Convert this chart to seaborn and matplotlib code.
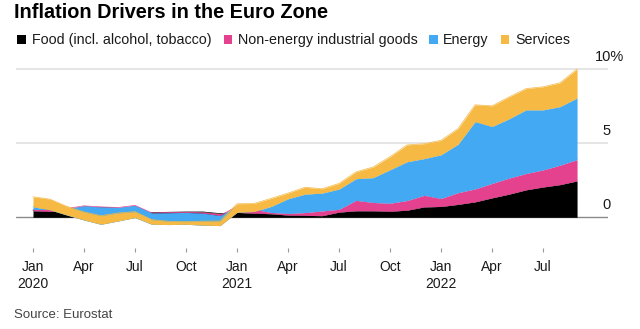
import numpy as np
import pandas as pd
import matplotlib
matplotlib.use("Agg")
import matplotlib.pyplot as plt
import matplotlib.transforms as mtransforms
from matplotlib.patches import Rectangle
import seaborn as sns

# ---------------- data (percentage-point contributions to euro-zone HICP) ----------------
months = pd.date_range("2020-01-01", "2022-09-01", freq="MS")
food = [0.44, 0.40, 0.46, 0.69, 0.65, 0.61, 0.38, 0.32, 0.34, 0.36, 0.36, 0.25,
        0.33, 0.28, 0.24, 0.15, 0.13, 0.11, 0.35, 0.44, 0.44, 0.41, 0.48, 0.70,
        0.73, 0.87, 1.04, 1.31, 1.56, 1.85, 2.04, 2.20, 2.45]
neig = [0.08, 0.13, 0.13, 0.08, 0.05, 0.05, 0.42, -0.03, -0.03, -0.03, -0.08, -0.13,
        0.40, 0.27, 0.08, 0.11, 0.19, 0.32, 0.19, 0.70, 0.56, 0.54, 0.65, 0.78,
        0.54, 0.79, 0.87, 0.97, 1.08, 1.10, 1.15, 1.31, 1.43]
energy = [0.19, -0.03, -0.44, -0.95, -1.17, -0.91, -0.82, -0.76, -0.80, -0.80, -0.81, -0.68,
          -0.40, -0.16, 0.41, 0.99, 1.24, 1.20, 1.36, 1.46, 1.67, 2.25, 2.61, 2.47,
          2.94, 3.26, 4.53, 3.83, 3.99, 4.28, 4.04, 3.94, 4.15]
services = [0.67, 0.72, 0.58, 0.54, 0.58, 0.54, 0.40, 0.31, 0.22, 0.18, 0.27, 0.31,
            0.58, 0.54, 0.54, 0.38, 0.46, 0.29, 0.38, 0.46, 0.71, 0.88, 1.13, 1.00,
            0.97, 1.05, 1.13, 1.39, 1.47, 1.43, 1.55, 1.60, 1.95]

series_names = ["Food (incl. alcohol, tobacco)", "Non-energy industrial goods", "Energy", "Services"]
series_colors = ["#000000", "#e4418e", "#42a9f2", "#f5b944"]
xtick_pos = list(range(0, 33, 3))
xtick_labels = ["Jan\n2020", "Apr", "Jul", "Oct", "Jan\n2021", "Apr", "Jul", "Oct",
                "Jan\n2022", "Apr", "Jul"]
ytick_vals = [0, 5, 10]
ytick_labels = ["0", "5", "10%"]

# ---------------- figure ----------------
sns.set_theme(style="white")
plt.rcParams["font.family"] = ["Liberation Sans", "DejaVu Sans"]

W, H = 640, 329
fig = plt.figure(figsize=(W / 100, H / 100), dpi=100)
fig.patch.set_facecolor("white")

def fx(px):
    return px / W

def fy(py):
    return 1 - py / H

ax_l, ax_r, ax_t, ax_b = 16, 608, 59.8, 248
ax = fig.add_axes([fx(ax_l), fy(ax_b), (ax_r - ax_l) / W, (ax_b - ax_t) / H])
ax.set_facecolor("white")

df = pd.DataFrame({"idx": np.arange(len(months)), "month": months})
for n, v in zip(series_names, [food, neig, energy, services]):
    df[n] = v

# gridlines
for v in [5, 10]:
    ax.axhline(v, color="#e3e3e3", lw=1.3, zorder=0)
ax.axhline(0, color="#8a8a8a", lw=1.0, zorder=0.5)

# cumulative "stacked" areas, each layer drawn over the previous ones
x = df["idx"].to_numpy()
cum = np.zeros(len(df))
for i, (name, col) in enumerate(zip(series_names, series_colors)):
    new = cum + df[name].to_numpy()
    ax.fill_between(x, cum, new, color=col, lw=0, zorder=2 + i)
    sns.lineplot(x=x, y=new, color=col, lw=0.5, ax=ax, zorder=2 + i)
    cum = new

ax.set_xlim(-1.0, 33.82)
ppu = (217.3 - 68.7) / 10.0
ax.set_ylim(-(ax_b - 217.3) / ppu, (217.3 - ax_t) / ppu)

ax.set_xticks(xtick_pos)
ax.set_xticklabels(xtick_labels)
ax.tick_params(axis="x", which="major", bottom=True, direction="out", length=3,
               width=0.8, color="#9a9a9a", pad=5.5, labelsize=10, labelcolor="#1a1a1a")
for lab in ax.get_xticklabels():
    lab.set_linespacing(1.3)
ax.set_yticks([])
ax.set_xlabel("")
ax.set_ylabel("")
for s in ax.spines.values():
    s.set_visible(False)

# y labels sitting above the gridlines at the right
trans = mtransforms.blended_transform_factory(fig.transFigure, ax.transData)
off = mtransforms.ScaledTranslation(0, 12 / 100, fig.dpi_scale_trans)
for v, lab in zip(ytick_vals, ytick_labels):
    xr = 624 if lab.endswith("%") else 611
    ax.text(fx(xr), v, lab, transform=trans + off, ha="right", va="center",
            fontsize=10.5, color="#1a1a1a")

# title
fig.text(fx(14), fy(17.5), "Inflation Drivers in the Euro Zone", fontsize=14.3,
         fontweight="bold", ha="left", va="baseline", color="#000000")

# legend row
sq_x = [17, 223.5, 429, 500.5]
tx_x = [32, 238, 443, 515]
for name, col, sx, tx in zip(series_names, series_colors, sq_x, tx_x):
    fig.patches.append(Rectangle((fx(sx), fy(43.8)), 8.5 / W, 8.8 / H,
                                 transform=fig.transFigure, facecolor=col,
                                 edgecolor="none"))
    fig.text(fx(tx), fy(44.3), name, fontsize=10.3, ha="left", va="baseline",
             color="#1a1a1a")

# source
fig.text(fx(14.5), fy(318), "Source: Eurostat", fontsize=9.5, ha="left",
         va="baseline", color="#444444")

fig.savefig("out.png", dpi=100, facecolor="white")
